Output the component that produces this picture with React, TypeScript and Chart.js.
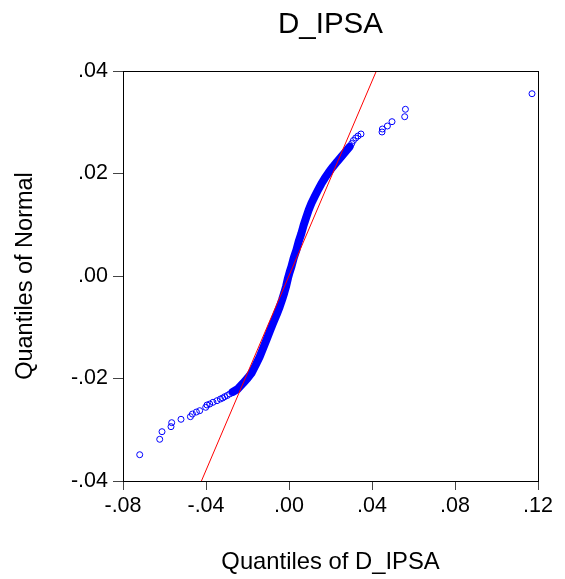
import React, { useEffect, useRef } from "react";
import { Chart, registerables } from "chart.js";

Chart.register(...registerables);

const chartTitle = "D_IPSA";
const xAxisTitle = "Quantiles of D_IPSA";
const yAxisTitle = "Quantiles of Normal";

const xTickValues = [-0.08, -0.04, 0, 0.04, 0.08, 0.12];
const xTickLabels = ["-.08", "-.04", ".00", ".04", ".08", ".12"];
const yTickValues = [-0.04, -0.02, 0, 0.02, 0.04];
const yTickLabels = ["-.04", "-.02", ".00", ".02", ".04"];

// sparse lower tail of the Q-Q points (x = data quantile, y = normal quantile)
const lowerTailX = [-0.07195, -0.06231, -0.0612, -0.05687, -0.05653, -0.05205, -0.04752, -0.04655, -0.04463, -0.04304, -0.04014, -0.03952, -0.03822, -0.03663, -0.0347, -0.03306, -0.03195, -0.03099, -0.02978, -0.02858];
const lowerTailY = [-0.03487, -0.03186, -0.03038, -0.0294, -0.02862, -0.02796, -0.02745, -0.02693, -0.02654, -0.02628, -0.02562, -0.02517, -0.02498, -0.02464, -0.02433, -0.024, -0.0238, -0.02355, -0.02332, -0.02302];

// dense core of the Q-Q points
const coreX = [-0.02713, -0.02472, -0.02217, -0.0199, -0.01812, -0.01605, -0.01412, -0.01243, -0.01089, -0.0093, -0.00771, -0.00593, -0.00448, -0.00337, -0.00231, -0.00135, -0.00048, 0.00034, 0.00116, 0.00227, 0.00357, 0.00467, 0.00598, 0.00708, 0.00839, 0.00949, 0.0108, 0.01239, 0.01398, 0.01552, 0.0172, 0.01913, 0.0212, 0.02323, 0.02525, 0.02733, 0.02925];
const coreY = [-0.02263, -0.02205, -0.02094, -0.0199, -0.01899, -0.01737, -0.01575, -0.01405, -0.01249, -0.01083, -0.00923, -0.00751, -0.00599, -0.00468, -0.00332, -0.00195, -0.00039, 0.00078, 0.00181, 0.00351, 0.00507, 0.00673, 0.00833, 0.00995, 0.01157, 0.01288, 0.01419, 0.01551, 0.01678, 0.01795, 0.01906, 0.0202, 0.02133, 0.02234, 0.02328, 0.02429, 0.02523];

// sparse upper tail
const upperTailX = [0.03022, 0.03104, 0.03214, 0.03325, 0.0347, 0.04482, 0.04501, 0.04742, 0.04964, 0.05576, 0.0561, 0.11711];
const upperTailY = [0.02585, 0.02644, 0.02693, 0.02732, 0.02771, 0.0281, 0.02868, 0.02927, 0.03011, 0.03108, 0.03253, 0.03557];

// theoretical normal reference line
const refLineX = [-0.0422, 0.0421];
const refLineY = [-0.04, 0.04];

const FONT = "'Liberation Sans', Arial, Helvetica, sans-serif";
const BLUE = "#0000ff";

const toPts = (xs: number[], ys: number[]) => xs.map((x, i) => ({ x, y: ys[i] }));

const framePlugin = {
  id: "frame",
  afterDraw(chart: any) {
    const { ctx, chartArea } = chart;
    ctx.save();
    ctx.strokeStyle = "#000";
    ctx.lineWidth = 1;
    ctx.strokeRect(
      Math.round(chartArea.left) + 0.5,
      Math.round(chartArea.top) + 0.5,
      Math.round(chartArea.right - chartArea.left),
      Math.round(chartArea.bottom - chartArea.top)
    );
    ctx.restore();
  },
};

export default function App() {
  const ref = useRef<HTMLCanvasElement | null>(null);

  useEffect(() => {
    document.body.style.margin = "0";
    const canvas = ref.current;
    if (!canvas) return;
    const pointStyle = {
      pointRadius: 3,
      pointBorderWidth: 1,
      pointBorderColor: BLUE,
      pointBackgroundColor: "rgba(0,0,0,0)",
      pointHoverRadius: 3,
    };
    const chart = new Chart(canvas, {
      type: "scatter",
      data: {
        datasets: [
          {
            label: "ref",
            data: toPts(refLineX, refLineY),
            showLine: true,
            borderColor: "#ff0000",
            borderWidth: 1,
            pointRadius: 0,
            order: 0,
          },
          {
            label: "core",
            data: toPts(coreX, coreY),
            showLine: true,
            borderColor: BLUE,
            borderWidth: 8,
            borderJoinStyle: "round",
            borderCapStyle: "round",
            ...pointStyle,
            order: 1,
          } as any,
          {
            label: "lower",
            data: toPts(lowerTailX, lowerTailY),
            showLine: false,
            ...pointStyle,
            order: 2,
          },
          {
            label: "upper",
            data: toPts(upperTailX, upperTailY),
            showLine: false,
            ...pointStyle,
            order: 2,
          },
        ],
      },
      options: {
        animation: false,
        responsive: false,
        maintainAspectRatio: false,
        layout: { padding: { left: 0, right: 27, top: 0, bottom: 0 } },
        plugins: {
          legend: { display: false },
          tooltip: { enabled: false },
          title: {
            display: true,
            fullSize: false,
            text: chartTitle,
            color: "#000",
            font: { family: FONT, size: 29.5, weight: "normal" },
            padding: { top: 7, bottom: 28.6 },
          },
        },
        scales: {
          x: {
            type: "linear",
            min: -0.08,
            max: 0.12,
            afterBuildTicks: (scale: any) => {
              scale.ticks = xTickValues.map((v) => ({ value: v }));
            },
            afterFit: (scale: any) => {
              scale.height = 98;
            },
            ticks: {
              color: "#000",
              font: { family: FONT, size: 21.5 },
              padding: 3,
              maxRotation: 0,
              autoSkip: false,
              callback: (_v: any, i: number) => xTickLabels[i],
            },
            grid: { drawOnChartArea: false, drawTicks: true, tickLength: 9, color: "#444" },
            border: { display: true, color: "#000" },
            title: {
              display: true,
              text: xAxisTitle,
              color: "#000",
              font: { family: FONT, size: 23.8 },
              padding: { top: 0, bottom: 2 },
            },
          },
          y: {
            type: "linear",
            min: -0.04,
            max: 0.04,
            afterBuildTicks: (scale: any) => {
              scale.ticks = yTickValues.map((v) => ({ value: v }));
            },
            afterFit: (scale: any) => {
              scale.width = 123;
            },
            ticks: {
              color: "#000",
              font: { family: FONT, size: 21.5 },
              padding: 5,
              autoSkip: false,
              callback: (_v: any, i: number) => yTickLabels[i],
            },
            grid: { drawOnChartArea: false, drawTicks: true, tickLength: 10, color: "#444" },
            border: { display: true, color: "#000" },
            title: {
              display: true,
              text: yAxisTitle,
              color: "#000",
              font: { family: FONT, size: 23.5 },
              padding: { top: 11, bottom: 0 },
            },
          },
        },
      },
      plugins: [framePlugin],
    } as any);
    return () => chart.destroy();
  }, []);

  return (
    <div style={{ width: 565, height: 579, background: "#fff" }}>
      <canvas ref={ref} width={565} height={579} style={{ display: "block" }} />
    </div>
  );
}
